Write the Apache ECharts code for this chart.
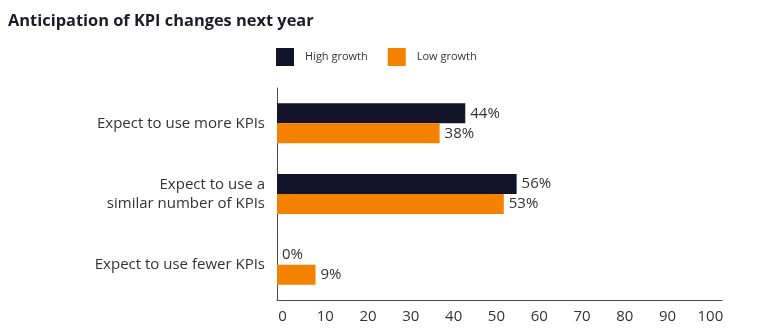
<!DOCTYPE html>
<html>
<head>
<meta charset="utf-8">
<script src="https://cdn.jsdelivr.net/npm/echarts@6/dist/echarts.min.js"></script>
<style>
  html, body { margin: 0; padding: 0; background: #fff; }
  #chart { width: 760px; height: 334px; }
</style>
</head>
<body>
<div id="chart"></div>
<script>
// Survey answers: how KPI usage is expected to change next year
const categories = [
  'Expect to use more KPIs',
  'Expect to use a\nsimilar number of KPIs',
  'Expect to use fewer KPIs'
];
const seriesNames = ['High growth', 'Low growth'];
const highGrowth = [44, 56, 0];
const lowGrowth = [38, 53, 9];
const xTicks = [0, 10, 20, 30, 40, 50, 60, 70, 80, 90, 100];

const FONT = '"Open Sans", "Noto Sans", sans-serif';
const TEXT = '#333333';
const colors = ['#14132b', '#f28200'];

const chart = echarts.init(document.getElementById('chart'));

const valueLabel = {
  show: true,
  position: 'right',
  distance: 5,
  formatter: p => p.value + '%',
  color: TEXT,
  fontFamily: FONT,
  fontSize: 15
};

chart.setOption({
  animation: false,
  color: colors,
  title: {
    text: 'Anticipation of KPI changes next year',
    left: 3,
    top: 8,
    textStyle: { fontFamily: FONT, fontSize: 16.4, fontWeight: 'bold', color: '#1b1b2b' }
  },
  legend: {
    data: seriesNames,
    left: 271,
    top: 43,
    itemWidth: 18,
    itemHeight: 18,
    itemGap: 20,
    icon: 'rect',
    textStyle: { fontFamily: FONT, fontSize: 11, color: TEXT, padding: [0, 0, 0, 6] }
  },
  grid: { left: 277, right: 38, top: 88, bottom: 34, containLabel: false },
  xAxis: {
    type: 'value',
    min: 0,
    max: 104,
    interval: 10,
    splitLine: { show: false },
    axisTick: { show: false },
    axisLine: { show: true, lineStyle: { color: '#4a4a5a', width: 1 } },
    axisLabel: {
      showMaxLabel: false,
      margin: 9,
      padding: [0, 0, 0, 11],
      color: TEXT,
      fontFamily: FONT,
      fontSize: 15,
      formatter: v => (xTicks.indexOf(v) >= 0 ? String(v) : '')
    }
  },
  yAxis: {
    type: 'category',
    data: categories,
    inverse: true,
    axisTick: { show: false },
    axisLine: { show: true, lineStyle: { color: '#4a4a5a', width: 1 } },
    axisLabel: {
      margin: 12,
      color: TEXT,
      fontFamily: FONT,
      fontSize: 15,
      lineHeight: 19,
      align: 'right'
    }
  },
  series: [
    {
      name: seriesNames[0],
      type: 'bar',
      data: highGrowth,
      barWidth: 20,
      barGap: '0%',
      label: valueLabel
    },
    {
      name: seriesNames[1],
      type: 'bar',
      data: lowGrowth,
      barWidth: 20,
      barGap: '0%',
      label: valueLabel
    }
  ]
});
</script>
</body>
</html>
